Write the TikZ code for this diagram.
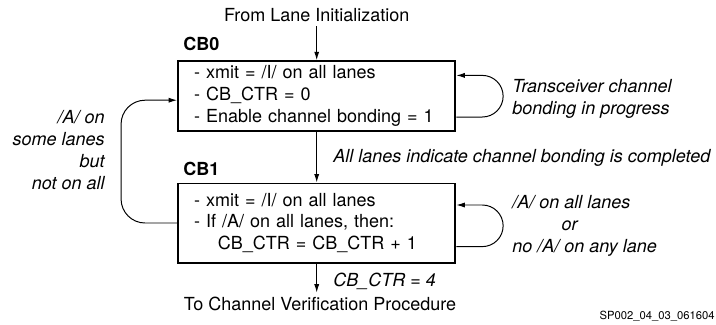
\documentclass[tikz,border=0pt]{standalone}
\usepackage{fontspec}
\setmainfont{TeX Gyre Heros}
\usetikzlibrary{arrows.meta}
\tikzset{
	txt/.style={inner sep=0pt, font=\fontsize{12.8}{15.6}\selectfont},
	itxt/.style={txt, font=\fontsize{12.8}{15.6}\selectfont\itshape},
	statebox/.style={draw, line width=1.4pt, align=left, text width=6.13cm, inner xsep=0.4cm, inner ysep=0pt, font=\fontsize{12.8}{15.6}\selectfont},
	edge/.style={line width=0.7pt, -{Latex[length=6pt,width=3.6pt]}}
}
\begin{document}
\begin{tikzpicture}[x=0.025cm, y=-0.025cm]
			\useasboundingbox (0,0) rectangle (716,324);
			\node [txt, inner sep=3pt] (from) at (316.7,15) {From Lane Initialization};
			\node [statebox, minimum height=1.75cm] (cb0) at (316.7,96.2) {- xmit = /I/ on all lanes\\- CB\_CTR = 0\\- Enable channel bonding = 1};
			\node [statebox, minimum height=1.975cm] (cb1) at (316.7,223) {- xmit = /I/ on all lanes\\- If /A/ on all lanes, then:\\\hspace*{17pt}CB\_CTR = CB\_CTR + 1};
			\node [txt, anchor=west, font=\fontsize{12.8}{15.6}\selectfont\bfseries] (cb0name) at (183,44) {CB0};
			\node [txt, anchor=west, font=\fontsize{12.8}{15.6}\selectfont\bfseries] (cb1name) at (183,169) {CB1};
			\node [txt, inner sep=3pt] (to) at (320,304) {To Channel Verification Procedure};
			\node [itxt, anchor=west, align=left] (inprog) at (512,99) {Transceiver channel\\bonding in progress};
			\node [itxt, anchor=west] (done) at (333,158) {All lanes indicate channel bonding is completed};
			\node [itxt, anchor=west, align=left] (stay) at (512,226) {/A/ on all lanes\\\hspace*{35pt}or\\no /A/ on any lane};
			\node [itxt, anchor=east, align=right] (some) at (105,150) {/A/ on\\some lanes\\but\hspace*{16pt}\\not on all};
			\node [itxt, anchor=west] (four) at (333,281) {CB\_CTR = 4};
			\node [txt, anchor=east, font=\fontsize{8}{10}\selectfont] (figid) at (715,316) {SP002\_04\_03\_061604};
			\draw [edge] (from) -- (cb0);
			\draw [edge] (cb0) -- (cb1);
			\draw [edge] (cb1.south) -- (cb1.south |- to.north);
			\draw [edge] ([yshift=-0.52cm]cb0.east) -- ++(0.65cm,0) arc [start angle=-90, end angle=90, radius=0.52cm] -- ([yshift=0.52cm]cb0.east);
			\draw [edge] ([yshift=-0.59cm]cb1.east) -- ++(0.65cm,0) arc [start angle=-90, end angle=90, radius=0.52cm] -- ([yshift=0.45cm]cb1.east);
			\draw [edge, rounded corners=0.6cm] (cb1.west) -- ++(-1.4cm,0) |- ([yshift=-0.1cm]cb0.west);
		\end{tikzpicture}
\end{document}
